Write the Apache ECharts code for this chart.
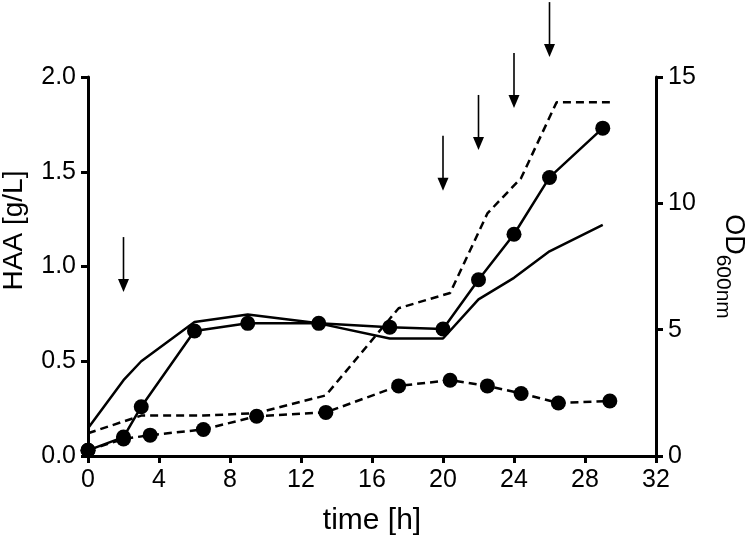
<!DOCTYPE html>
<html>
<head>
<meta charset="utf-8">
<script src="https://cdn.jsdelivr.net/npm/echarts@6/dist/echarts.min.js"></script>
<style>html,body{margin:0;padding:0;background:#fff}#c{width:750px;height:536px}</style>
</head>
<body>
<div id="c"></div>
<script>
// HAA, solid line with markers (left axis, g/L)
const haaSolidT = [0, 2, 3, 6, 9, 13, 17, 20, 22, 24, 26, 29];
const haaSolidV = [0.03, 0.10, 0.26, 0.66, 0.70, 0.70, 0.68, 0.67, 0.93, 1.17, 1.47, 1.73];
// HAA, dashed line with markers (left axis, g/L)
const haaDashT = [0, 2, 3.5, 6.5, 9.5, 13.4, 17.5, 20.4, 22.5, 24.4, 26.5, 29.4];
const haaDashV = [0.03, 0.09, 0.11, 0.14, 0.21, 0.23, 0.37, 0.40, 0.37, 0.33, 0.28, 0.29];
// OD600, solid line without markers (right axis)
const odSolidT = [0, 2, 3, 6, 9, 13, 17, 20, 22, 24, 26, 29];
const odSolidV = [1.1, 3.0, 3.75, 5.3, 5.6, 5.25, 4.65, 4.65, 6.2, 7.05, 8.1, 9.15];
// OD600, dashed line without markers (right axis)
const odDashT = [0, 3, 6.5, 9.5, 13.4, 17.5, 20.4, 22.5, 24.4, 26.4, 29.4];
const odDashV = [0.9, 1.6, 1.6, 1.7, 2.4, 5.85, 6.45, 9.6, 11.0, 14.0, 14.0];
// feeding arrows: time and tip position (left-axis units)
const arrowT = [2, 20, 22, 24, 26];
const arrowTipV = [0.865, 1.40, 1.615, 1.836, 2.105];

const xTicks = [0, 4, 8, 12, 16, 20, 24, 28, 32];
const leftTicks = [0.0, 0.5, 1.0, 1.5, 2.0];
const rightTicks = [0, 5, 10, 15];

function pairs(t, v) { return t.map((x, i) => [x, v[i]]); }

const FONT = 'Liberation Sans, Arial, sans-serif';
const axisCommon = {
  axisLine: { show: true, lineStyle: { color: '#000', width: 3 } },
  axisTick: { show: true, inside: false, length: 7, lineStyle: { color: '#000', width: 3 } },
  splitLine: { show: false },
  axisLabel: { color: '#000', fontSize: 25, fontFamily: FONT }
};

const chart = echarts.init(document.getElementById('c'), null, { renderer: 'canvas' });
chart.setOption({
  animation: false,
  backgroundColor: '#fff',
  grid: { left: 88, right: 94, top: 77, bottom: 80, containLabel: false, outerBoundsMode: 'none' },
  xAxis: Object.assign({}, axisCommon, {
    type: 'value', min: xTicks[0], max: xTicks[xTicks.length - 1], interval: 4,
    name: 'time [h]', nameLocation: 'middle', nameGap: 50,
    nameTextStyle: { color: '#000', fontSize: 30, fontFamily: FONT },
    axisLabel: Object.assign({}, axisCommon.axisLabel, { margin: 12 })
  }),
  yAxis: [
    Object.assign({}, axisCommon, {
      type: 'value', min: leftTicks[0], max: leftTicks[leftTicks.length - 1], interval: 0.5,
      name: 'HAA [g/L]', nameLocation: 'middle', nameGap: 60, nameRotate: 90,
      nameTextStyle: { color: '#000', fontSize: 28, fontFamily: FONT, padding: [0, 0, 0, 72] },
      axisLabel: Object.assign({}, axisCommon.axisLabel, { margin: 12, formatter: v => v.toFixed(1) })
    }),
    Object.assign({}, axisCommon, {
      type: 'value', position: 'right', min: rightTicks[0], max: rightTicks[rightTicks.length - 1], interval: 5,
      name: '{a|OD}{b|600nm}', nameLocation: 'middle', nameGap: 56, nameRotate: -90,
      nameTextStyle: {
        color: '#000', fontFamily: FONT,
        rich: {
          a: { fontSize: 27, fontFamily: FONT, color: '#000', verticalAlign: 'top' },
          b: { fontSize: 21, fontFamily: FONT, color: '#000', verticalAlign: 'bottom', padding: [14, 0, 0, 0] }
        }
      },
      axisLabel: Object.assign({}, axisCommon.axisLabel, { margin: 12 })
    })
  ],
  series: [
    {
      type: 'line', yAxisIndex: 1, data: pairs(odSolidT, odSolidV), showSymbol: false, symbol: 'none',
      lineStyle: { color: '#000', width: 2.5 }, z: 2
    },
    {
      type: 'line', yAxisIndex: 1, data: pairs(odDashT, odDashV), showSymbol: false, symbol: 'none',
      lineStyle: { color: '#000', width: 2.5, type: [8, 5] }, z: 2
    },
    {
      type: 'line', yAxisIndex: 0, data: pairs(haaSolidT, haaSolidV), symbol: 'circle', symbolSize: 15,
      itemStyle: { color: '#000' }, lineStyle: { color: '#000', width: 2.5 }, z: 3
    },
    {
      type: 'line', yAxisIndex: 0, data: pairs(haaDashT, haaDashV), symbol: 'circle', symbolSize: 15,
      itemStyle: { color: '#000' }, lineStyle: { color: '#000', width: 2.5, type: [8, 5] }, z: 3
    },
    {
      type: 'custom', yAxisIndex: 0, clip: false, z: 4,
      data: pairs(arrowT, arrowTipV),
      renderItem: function (params, api) {
        const p = api.coord([api.value(0), api.value(1)]);
        const len = 55, headH = 13, headW = 5.5;
        return {
          type: 'group',
          children: [
            { type: 'line', shape: { x1: p[0], y1: p[1] - len, x2: p[0], y2: p[1] - headH + 1 },
              style: { stroke: '#000', lineWidth: 1.6 } },
            { type: 'polygon', shape: { points: [[p[0] - headW, p[1] - headH], [p[0] + headW, p[1] - headH], [p[0], p[1]]] },
              style: { fill: '#000' } }
          ]
        };
      }
    }
  ]
});
</script>
</body>
</html>
